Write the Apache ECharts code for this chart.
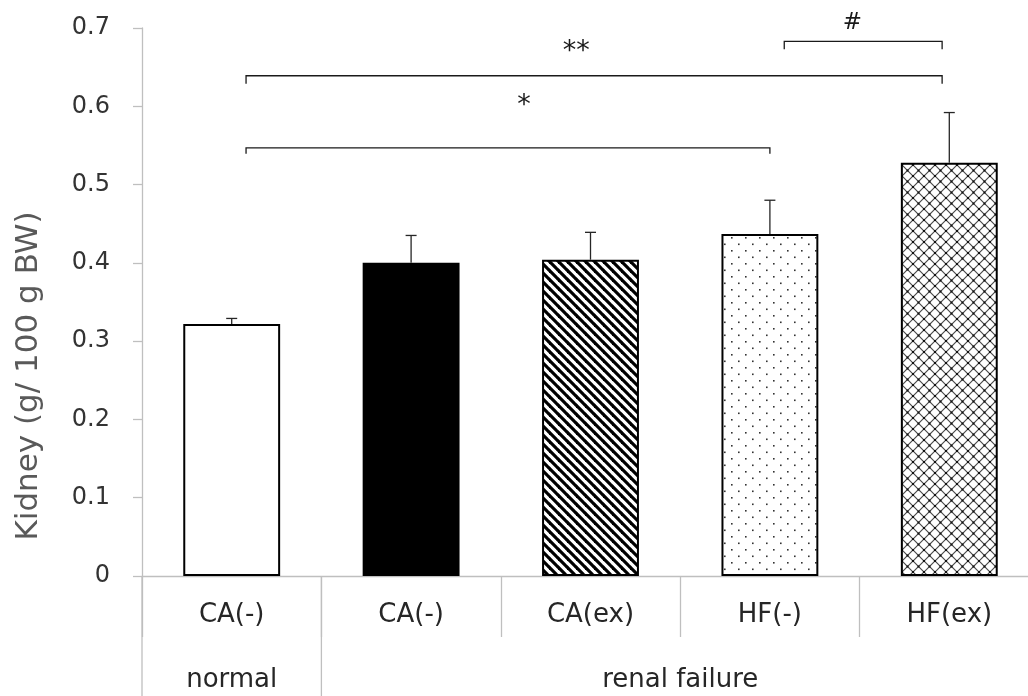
<!DOCTYPE html>
<html>
<head>
<meta charset="utf-8">
<script src="https://cdn.jsdelivr.net/npm/echarts@6/dist/echarts.min.js"></script>
<style>
  html, body { margin: 0; padding: 0; background: #ffffff; overflow: hidden; }
  /* the plot runs slightly past the right edge of the window */
  #chart { width: 1040px; height: 696px; }
</style>
</head>
<body>
<div id="chart"></div>
<script>
// Kidney weight per 100 g body weight, mean and SD for each group
const categories = ['CA(-)', 'CA(-)', 'CA(ex)', 'HF(-)', 'HF(ex)'];
const kidneyMean = [0.322, 0.400, 0.404, 0.437, 0.528];
const kidneySD = [0.007, 0.035, 0.035, 0.043, 0.064];

// Second-level grouping under the category labels (index ranges)
const groupNames = ['normal', 'renal failure'];
const groupFrom = [0, 1];
const groupTo = [0, 4];

// Significance brackets: span in category units, level in axis units
const bracketFrom = [0.08, 0.08, 3.08];
const bracketTo = [3.0, 3.96, 3.96];
const bracketLevel = [0.547, 0.639, 0.683];
const bracketText = ['*', '**', '#'];
const bracketTextAt = [1.63, 1.92, 3.46];
const bracketTextLevel = [0.600, 0.670, 0.706];

const yMin = 0, yMax = 0.7, yStep = 0.1;

// ---- fill patterns -------------------------------------------------------
function tile(w, h, draw) {
  const c = document.createElement('canvas');
  c.width = w; c.height = h;
  const ctx = c.getContext('2d');
  ctx.fillStyle = '#ffffff';
  ctx.fillRect(0, 0, w, h);
  draw(ctx, w, h);
  return { image: c, repeat: 'repeat' };
}
const stripes = tile(9, 9, (ctx, w, h) => {
  ctx.strokeStyle = '#000';
  ctx.lineWidth = 3.2;
  for (let k = -1; k <= 1; k++) {
    ctx.beginPath();
    ctx.moveTo(k * w - 1, -1);
    ctx.lineTo(k * w + w + 1, h + 1);
    ctx.stroke();
  }
});
const dots = tile(14, 13, (ctx) => {
  ctx.fillStyle = '#333';
  ctx.fillRect(3, 3, 1.6, 1.6);
  ctx.fillRect(10, 9.5, 1.6, 1.6);
});
const lattice = tile(11, 11, (ctx, w, h) => {
  ctx.strokeStyle = '#4a4a4a';
  ctx.lineWidth = 1.2;
  ctx.beginPath();
  ctx.moveTo(0, 0); ctx.lineTo(w, h);
  ctx.moveTo(w, 0); ctx.lineTo(0, h);
  ctx.stroke();
  ctx.fillStyle = '#111';
  ctx.fillRect(w / 2 - 1, h / 2 - 1, 2, 2);
  ctx.fillRect(0, 0, 1, 1); ctx.fillRect(w - 1, 0, 1, 1);
  ctx.fillRect(0, h - 1, 1, 1); ctx.fillRect(w - 1, h - 1, 1, 1);
});
const fills = ['#ffffff', '#000000', stripes, dots, lattice];

// ---- chart ---------------------------------------------------------------
const FONT = "'DejaVu Sans', sans-serif";
const AXIS_GRAY = '#bfbfbf';

const chart = echarts.init(document.getElementById('chart'), null, { renderer: 'canvas' });

chart.setOption({
  animation: false,
  backgroundColor: '#ffffff',
  grid: { left: 142, top: 28, right: 1, bottom: 120, containLabel: false },
  xAxis: {
    type: 'category',
    data: categories,
    axisLine: { lineStyle: { color: AXIS_GRAY, width: 1.3 } },
    axisTick: { show: true, length: 61, interval: 0, alignWithLabel: false,
                lineStyle: { color: AXIS_GRAY, width: 1.3 } },
    axisLabel: { interval: 0, margin: 26, fontSize: 26, color: '#262626', fontFamily: FONT },
    splitLine: { show: false }
  },
  yAxis: {
    type: 'value',
    min: yMin, max: yMax, interval: yStep,
    name: 'Kidney (g/ 100 g BW)',
    nameLocation: 'middle',
    nameGap: 98,
    nameTextStyle: { fontSize: 31, color: '#595959', fontFamily: FONT, padding: [0, 148, 0, 0] },
    axisLine: { show: true, lineStyle: { color: AXIS_GRAY, width: 1.3 } },
    axisTick: { show: true, length: 9, lineStyle: { color: AXIS_GRAY, width: 1.3 } },
    axisLabel: { margin: 32, fontSize: 24, color: '#333333', fontFamily: FONT,
                 formatter: v => (v === 0 ? '0' : v.toFixed(1)) },
    splitLine: { show: false }
  },
  series: [
    {
      type: 'bar',
      barWidth: '54%',
      data: kidneyMean.map((v, i) => ({
        value: v,
        itemStyle: { color: fills[i], borderColor: '#000', borderWidth: 2 }
      })),
      z: 2
    },
    {
      // error bars (mean + SD)
      type: 'custom',
      z: 3,
      data: kidneyMean.map((v, i) => [i, v, kidneySD[i]]),
      encode: { x: 0, y: 1 },
      renderItem: (params, api) => {
        const base = api.coord([api.value(0), api.value(1)]);
        const top = api.coord([api.value(0), api.value(1) + api.value(2)]);
        const cap = 5.5;
        return {
          type: 'group',
          children: [
            { type: 'line', shape: { x1: base[0], y1: base[1], x2: top[0], y2: top[1] },
              style: { stroke: '#262626', lineWidth: 1.3 } },
            { type: 'line', shape: { x1: top[0] - cap, y1: top[1], x2: top[0] + cap, y2: top[1] },
              style: { stroke: '#262626', lineWidth: 1.3 } }
          ]
        };
      }
    },
    {
      // significance brackets with their markers
      type: 'custom',
      z: 3,
      data: bracketLevel.map(l => [0, l]),
      encode: { x: 0, y: 1 },
      renderItem: (params, api) => {
        const i = params.dataIndex;
        const c0 = api.coord([0, 0])[0];
        const band = api.size([1, 0])[0];
        const px = f => c0 + f * band;
        const y = api.coord([0, bracketLevel[i]])[1];
        const ty = api.coord([0, bracketTextLevel[i]])[1];
        const drop = i === 0 ? 6 : 8;
        const x1 = px(bracketFrom[i]), x2 = px(bracketTo[i]);
        return {
          type: 'group',
          children: [
            { type: 'polyline',
              shape: { points: [[x1, y + drop], [x1, y], [x2, y], [x2, y + drop]] },
              style: { stroke: '#1a1a1a', lineWidth: 1.3, fill: null } },
            { type: 'text',
              style: { text: bracketText[i], x: px(bracketTextAt[i]), y: ty,
                       align: 'center', verticalAlign: 'middle',
                       fontSize: i === 2 ? 23 : 27, fontFamily: FONT, fill: '#1a1a1a' } }
          ]
        };
      }
    },
    {
      // group separators and group names below the category labels
      type: 'custom',
      z: 3,
      data: groupFrom.map(f => [f, 0]),
      encode: { x: 0, y: 1 },
      renderItem: (params, api) => {
        const i = params.dataIndex;
        const c0 = api.coord([0, 0]);
        const band = api.size([1, 0])[0];
        const left = c0[0] + (groupFrom[i] - 0.5) * band;
        const right = c0[0] + (groupTo[i] + 0.5) * band;
        const y0 = c0[1];
        return {
          type: 'group',
          children: [
            { type: 'line', shape: { x1: left, y1: y0, x2: left, y2: y0 + 130 },
              style: { stroke: AXIS_GRAY, lineWidth: 1.3 } },
            { type: 'text',
              style: { text: groupNames[i], x: (left + right) / 2, y: y0 + 104,
                       align: 'center', verticalAlign: 'middle',
                       fontSize: 26, fontFamily: FONT, fill: '#262626' } }
          ]
        };
      }
    }
  ]
});
</script>
</body>
</html>
